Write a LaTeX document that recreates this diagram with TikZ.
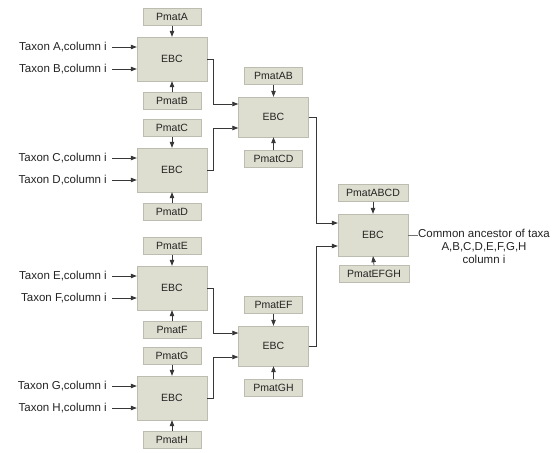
\documentclass[tikz,border=0pt]{standalone}
\usepackage{fontspec}
\setmainfont{Liberation Sans}
\usetikzlibrary{arrows.meta,calc}
\definecolor{boxfill}{RGB}{222,222,208}
\definecolor{boxline}{RGB}{188,188,176}
\definecolor{wirecol}{RGB}{55,55,55}
\definecolor{textcol}{RGB}{35,35,35}
\begin{document}
\begin{tikzpicture}[x=1pt,y=-1pt,
  every node/.style={font=\fontsize{10.5}{12.5}\selectfont, text=textcol},
  ebc/.style={draw=boxline, fill=boxfill, minimum width=70pt, minimum height=44pt, inner sep=0pt},
  pmat/.style={draw=boxline, fill=boxfill, minimum width=58pt, minimum height=17pt, inner sep=0pt},
  pmatwide/.style={pmat, minimum width=70pt},
  label/.style={inner sep=0pt, font=\fontsize{11.5}{12.8}\selectfont},
  taxon/.style={label, anchor=east},
  wire/.style={draw=wirecol, line width=0.7pt, -{Triangle[length=6pt,width=4.5pt]}},
  plain/.style={draw=wirecol!70, line width=0.7pt}]
\useasboundingbox (0,0) rectangle (555,453);

% ---- first level: one EBC per pair of taxa ----
\foreach \n/\c/\ta/\tb/\pa/\pb in {e1/59/A/B/PmatA/PmatB, e2/170/C/D/PmatC/PmatD,
                                   e3/288/E/F/PmatE/PmatF, e4/398/G/H/PmatG/PmatH}{
  \node[ebc] (\n) at (172,\c) {EBC};
  \node[pmat] (\n top) at (172,\c-42) {\pa};
  \node[pmat] (\n bot) at (172,\c+42) {\pb};
  \draw[wire] (\n top.south) -- (\n.north);
  \draw[wire] (\n bot.north) -- (\n.south);
  \node[taxon] (\n ta) at (107,\c-12) {Taxon \ta,column i};
  \node[taxon] (\n tb) at (107,\c+10) {Taxon \tb,column i};
  \draw[wire, shorten <=5pt] (\n ta.east) -- (\n ta.east -| \n.west);
  \draw[wire, shorten <=5pt] (\n tb.east) -- (\n tb.east -| \n.west);
}

% ---- second level ----
\foreach \n/\c/\pa/\pb in {m1/117/PmatAB/PmatCD, m2/346/PmatEF/PmatGH}{
  \node[ebc, minimum height=40pt] (\n) at (273.5,\c) {EBC};
  \node[pmat] (\n top) at (273.5,\c-41) {\pa};
  \node[pmat] (\n bot) at (273.5,\c+42) {\pb};
  \draw[wire] (\n top.south) -- (\n.north);
  \draw[wire] (\n bot.north) -- (\n.south);
  \coordinate (\n in1) at ($(\n.west)+(0,-13)$);
  \coordinate (\n in2) at ($(\n.west)+(0,11)$);
}
\draw[wire] (e1.east) -- ++(6,0) |- (m1in1);
\draw[wire] (e2.east) -- ++(6,0) |- (m1in2);
\draw[wire] (e3.east) -- ++(6,0) |- (m2in1);
\draw[wire] (e4.east) -- ++(6,0) |- (m2in2);

% ---- root ----
\node[ebc, minimum height=42pt] (r) at (373,235) {EBC};
\node[pmatwide] (rtop) at (373,193) {PmatABCD};
\node[pmatwide] (rbot) at (374,274) {PmatEFGH};
\draw[wire] (rtop.south) -- (r.north);
\draw[wire] (rbot.north) -- (r.south);
\coordinate (rin1) at ($(r.west)+(0,-12)$);
\coordinate (rin2) at ($(r.west)+(0,11)$);
\draw[wire] (m1.east) -- ++(8,0) |- (rin1);
\draw[wire] (m2.east) -- ++(8,0) |- (rin2);

\node[label, anchor=north, align=center] (anc) at (484,229)
  {Common ancestor of taxa\\A,B,C,D,E,F,G,H\\column i};
\draw[plain] (r.east) -- (r.east -| anc.west);
\end{tikzpicture}
\end{document}
